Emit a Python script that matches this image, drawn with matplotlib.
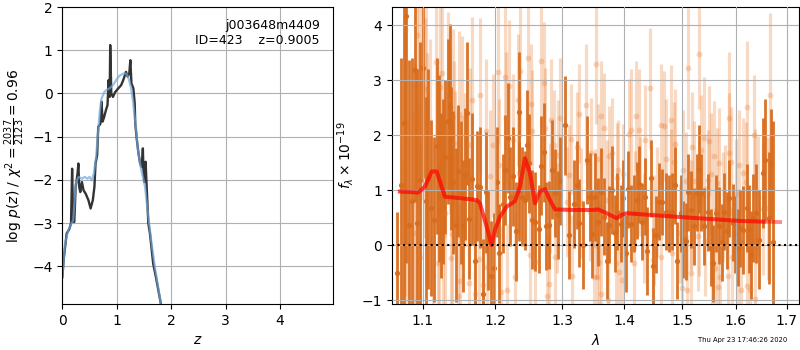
import matplotlib
matplotlib.use("Agg")
import matplotlib.pyplot as plt
from matplotlib.ticker import FixedLocator, FormatStrFormatter, NullLocator, NullFormatter

plt.rcParams['font.size'] = 10

# ---------------- left panel: log p(z) ----------------
z_dark = [0.0, 0.03, 0.08, 0.13, 0.16, 0.18, 0.20, 0.22, 0.245, 0.28, 0.295, 0.31, 0.33,
          0.36, 0.39, 0.43, 0.48, 0.52, 0.56, 0.59, 0.61, 0.64, 0.66, 0.70, 0.72, 0.74,
          0.77, 0.80, 0.83, 0.85, 0.87, 0.88, 0.90, 0.93, 0.97, 1.03, 1.08, 1.12, 1.17,
          1.20, 1.23, 1.25, 1.27, 1.305, 1.33, 1.34, 1.37, 1.40, 1.43, 1.46, 1.48, 1.49,
          1.51, 1.53, 1.55, 1.58, 1.61, 1.67, 1.72, 1.81, 1.90]
logp_dark = [-4.25, -3.78, -3.24, -3.13, -3.00, -1.74, -2.97, -2.97, -2.16, -1.85, -1.62,
             -2.16, -2.28, -2.05, -2.24, -2.32, -2.47, -2.66, -2.47, -2.16, -1.62, -1.43,
             -0.77, -0.70, -0.19, -0.65, -0.54, -0.39, -0.27, 0.31, -0.08, 1.12, 0.00,
             -0.08, 0.03, 0.12, 0.19, 0.31, 0.50, 0.39, 0.46, 0.77, 0.23, 0.12, -0.23,
             -0.69, -1.08, -1.39, -1.62, -1.70, -1.27, -1.77, -2.05, -1.58, -2.16, -3.00,
             -3.24, -3.94, -4.25, -4.86, -5.50]

z_blue = [0.0, 0.05, 0.11, 0.20, 0.25, 0.30, 0.36, 0.41, 0.46, 0.50, 0.54, 0.58, 0.62,
          0.66, 0.69, 0.72, 0.77, 0.81, 0.87, 0.93, 0.99, 1.05, 1.12, 1.17, 1.21, 1.26,
          1.30, 1.35, 1.39, 1.45, 1.52, 1.58, 1.64, 1.70, 1.81, 1.90]
logp_blue = [-4.25, -3.47, -3.16, -2.93, -2.05, -1.93, -1.97, -1.93, -1.97, -1.93, -2.01,
             -1.85, -1.47, -0.85, -0.39, -0.12, 0.03, 0.08, 0.12, 0.19, 0.31, 0.41, 0.46,
             0.46, 0.39, 0.15, -0.19, -0.77, -1.31, -1.77, -2.16, -2.85, -3.47, -4.01,
             -4.86, -5.50]

# ---------------- right panel: spectrum ----------------
lam_dark = [1.0673, 1.0718, 1.0757, 1.0782, 1.0825, 1.0860, 1.0903, 1.0929, 1.0964, 1.1008,
            1.1040, 1.1074, 1.1114, 1.1154, 1.1186, 1.1221, 1.1248, 1.1274, 1.1301, 1.1334,
            1.1365, 1.1379, 1.1410, 1.1447, 1.1479, 1.1515, 1.1550, 1.1575, 1.1603, 1.1630,
            1.1664, 1.1710, 1.1742, 1.1780, 1.1818, 1.1865, 1.1897, 1.1936, 1.1985, 1.2022,
            1.2055, 1.2105, 1.2142, 1.2182, 1.2215, 1.2255, 1.2299, 1.2338, 1.2347, 1.2387,
            1.2427, 1.2462, 1.2496, 1.2536, 1.2586, 1.2637, 1.2672, 1.2713, 1.2753, 1.2799,
            1.2840, 1.2891, 1.2933, 1.2968, 1.3046, 1.3108, 1.3178, 1.3230, 1.3266, 1.3320,
            1.3389, 1.3432, 1.3469, 1.3513, 1.3566, 1.3620, 1.3664, 1.3708, 1.3751, 1.3800,
            1.3840, 1.3883, 1.3940, 1.3980, 1.4023, 1.4062, 1.4118, 1.4163, 1.4209, 1.4248,
            1.4304, 1.4346, 1.4390, 1.4449, 1.4494, 1.4536, 1.4593, 1.4651, 1.4711, 1.4769,
            1.4827, 1.4875, 1.4916, 1.4977, 1.5024, 1.5067, 1.5114, 1.5168, 1.5217, 1.5266,
            1.5300, 1.5345, 1.5406, 1.5468, 1.5530, 1.5572, 1.5623, 1.5673, 1.5735, 1.5779,
            1.5830, 1.5873, 1.5938, 1.5988, 1.6034, 1.6084, 1.6141, 1.6207, 1.6258, 1.6291,
            1.6336, 1.6389, 1.6453, 1.6520, 1.6572, 1.6639, 1.6685, 1.6731]
flux_dark = [-0.50, 1.10, 2.22, 4.17, 0.37, 0.80, 3.19, 0.40, 1.19, 3.22,
             0.80, 1.20, 0.67, 0.46, 1.80, 1.40, 0.90, 1.16, 1.61, 2.25,
             2.52, 1.58, 1.14, 0.37, 1.34, 0.95, 0.35, 1.30, 2.40, 0.48,
             1.20, -0.28, 1.07, 1.05, -0.88, 0.96, 0.08, -0.56, -0.42, 1.14,
             -0.15, 0.75, 1.37, 1.95, 0.88, 1.25, 0.25, 0.98, 2.42, 0.88,
             0.82, 1.82, 1.49, 0.46, 0.43, 0.29, 1.44, 1.69, 0.34, 0.37,
             1.37, 0.95, 0.55, 1.16, 2.18, 0.18, 0.75, 1.10, 0.40, 0.00,
             1.54, 0.88, 0.21, 0.88, 0.43, 0.96, 0.52, -0.28, 0.37, 1.00,
             0.22, 0.61, 0.39, 0.85, -0.15, 1.02, 0.39, 0.58, 0.82, 1.11,
             0.43, 0.88, -0.10, 1.22, -0.38, 0.19, 0.79, 0.79, 0.61, 0.57,
             0.61, 1.09, -0.28, 0.58, 0.11, 0.07, 0.96, 0.64, 0.34, 0.95,
             1.38, 0.95, 0.34, 0.60, -0.05, -0.33, 0.58, 0.35, 0.05, 0.61,
             0.26, 0.85, 0.41, 0.20, -0.05, 0.31, 0.28, 0.67, 0.29, -0.18,
             0.49, 0.58, 0.10, 1.31, 1.55, 0.49, 1.48, 0.06]
err_dark = [1.10, 2.30, 3.50, 4.50, 3.00, 2.60, 2.40, 2.80, 2.50, 2.00,
            1.90, 2.00, 1.60, 1.50, 1.60, 1.70, 1.50, 1.50, 1.40, 1.50,
            1.50, 1.30, 1.30, 1.40, 1.20, 1.30, 1.20, 1.20, 1.30, 1.10,
            1.20, 1.10, 1.00, 1.10, 1.00, 1.10, 0.90, 1.00, 1.00, 1.00,
            0.90, 0.90, 1.00, 1.00, 0.90, 0.90, 0.90, 0.90, 1.10, 0.90,
            0.90, 1.00, 0.90, 0.90, 0.90, 0.80, 0.90, 0.90, 0.80, 0.80,
            0.90, 0.80, 0.80, 0.80, 0.90, 0.80, 0.80, 0.80, 0.80, 0.80,
            0.80, 0.80, 0.80, 0.80, 0.80, 0.80, 0.70, 0.70, 0.70, 0.80,
            0.70, 0.70, 0.70, 0.70, 0.70, 0.70, 0.70, 0.70, 0.70, 0.70,
            0.70, 0.70, 0.80, 0.70, 0.70, 0.70, 0.70, 0.60, 0.70, 0.70,
            0.70, 0.70, 0.70, 0.70, 0.70, 0.70, 0.70, 0.70, 0.70, 0.70,
            0.80, 0.70, 0.70, 0.70, 0.70, 0.70, 0.70, 0.70, 0.70, 0.70,
            0.70, 0.70, 0.70, 0.70, 0.70, 0.70, 0.80, 0.80, 0.80, 0.80,
            0.80, 0.90, 0.90, 1.00, 1.10, 1.20, 1.00, 2.20]

lam_light = [1.0748, 1.0770, 1.0791, 1.0886, 1.0899, 1.0921, 1.0935, 1.0950, 1.0964, 1.0987,
             1.1030, 1.1039, 1.1053, 1.1061, 1.1096, 1.1132, 1.1176, 1.1198, 1.1220, 1.1229,
             1.1260, 1.1274, 1.1297, 1.1341, 1.1365, 1.1374, 1.1392, 1.1410, 1.1419, 1.1433,
             1.1469, 1.1491, 1.1502, 1.1525, 1.1571, 1.1631, 1.1641, 1.1664, 1.1711, 1.1771,
             1.1780, 1.1827, 1.1865, 1.1875, 1.1922, 1.1969, 1.2041, 1.2055, 1.2084, 1.2133,
             1.2151, 1.2166, 1.2190, 1.2249, 1.2287, 1.2328, 1.2347, 1.2362, 1.2476, 1.2511,
             1.2526, 1.2536, 1.2586, 1.2677, 1.2722, 1.2738, 1.2764, 1.2789, 1.2814, 1.2829,
             1.2866, 1.2891, 1.2917, 1.2933, 1.2968, 1.3074, 1.3101, 1.3142, 1.3155, 1.3230,
             1.3257, 1.3298, 1.3378, 1.3442, 1.3453, 1.3497, 1.3513, 1.3529, 1.3545, 1.3555,
             1.3566, 1.3582, 1.3610, 1.3620, 1.3664, 1.3718, 1.3730, 1.3745, 1.3800, 1.3855,
             1.3872, 1.3894, 1.3905, 1.3965, 1.3982, 1.4077, 1.4105, 1.4160, 1.4189, 1.4199,
             1.4245, 1.4274, 1.4330, 1.4347, 1.4434, 1.4492, 1.4504, 1.4563, 1.4622, 1.4635,
             1.4680, 1.4710, 1.4799, 1.4812, 1.4827, 1.4857, 1.4875, 1.4965, 1.5006, 1.5024,
             1.5067, 1.5096, 1.5114, 1.5158, 1.5170, 1.5187, 1.5217, 1.5285, 1.5303, 1.5314,
             1.5345, 1.5406, 1.5420, 1.5468, 1.5487, 1.5530, 1.5545, 1.5591, 1.5605, 1.5636,
             1.5655, 1.5685, 1.5700, 1.5748, 1.5797, 1.5842, 1.5861, 1.5873, 1.5905, 1.5920,
             1.6000, 1.6034, 1.6065, 1.6097, 1.6130, 1.6194, 1.6207, 1.6220, 1.6277, 1.6355,
             1.6368, 1.6375, 1.6422, 1.6532, 1.6618, 1.6664]
flux_light = [-0.86, 1.68, -0.18, 0.22, 1.01, 3.82, 0.54, 2.73, -0.21, 2.92,
              2.13, 2.84, 1.49, 1.07, 1.85, -0.54, 3.33, -0.33, 0.41, 2.87,
              3.13, 0.16, 0.58, 2.64, 2.07, -0.24, 0.21, 2.33, 1.85, 1.41,
              -0.92, 2.39, -0.66, 2.31, 1.37, -0.69, 1.82, 2.64, -0.88, -0.25,
              2.73, -0.72, 2.08, -0.39, 1.26, 1.82, 3.14, 1.46, -0.86, 3.05,
              2.31, -0.81, 2.90, 1.92, -0.57, 2.64, 1.31, 3.17, 3.40, -0.18,
              2.56, 2.08, -0.30, 3.35, 2.95, 2.13, -0.92, -0.71, 0.85, 2.28,
              1.82, -0.21, 0.49, 1.64, 2.31, 0.79, 1.28, 1.93, -0.56, 1.79,
              2.39, 0.76, 2.55, 0.61, 1.68, -0.57, 0.85, 3.30, -0.58, 0.28,
              1.56, -0.30, 2.34, -0.88, 2.13, 0.82, -0.99, 1.63, 1.67, -0.33,
              1.22, 1.37, -0.48, -0.63, 1.30, 2.02, 2.10, -0.33, 0.82, 2.35,
              2.10, 1.07, 0.31, 1.92, 2.85, -0.27, 0.28, 0.79, 2.19, -0.21,
              2.17, 1.56, 2.28, 1.22, -0.15, 1.51, 1.84, 0.22, -0.78, 1.36,
              1.16, -0.81, 3.22, 0.55, -0.51, 1.78, 1.16, 0.16, 3.48, 0.34,
              1.73, 1.95, 0.08, 1.19, 1.90, 1.30, -0.33, 1.62, -0.42, 1.13,
              -0.76, 1.49, -0.58, 0.70, 0.93, -0.56, 1.67, 2.31, 1.52, -0.21,
              0.93, -0.08, 1.45, -0.81, 1.32, 1.14, 2.51, -0.74, -0.81, 2.00,
              -0.98, 1.01, 0.88, 0.65, 0.67, 2.73]
err_light = [2.4, 2.6, 2.5, 2.2, 2.3, 2.5, 2.0, 2.2, 2.0, 2.1,
             2.0, 1.9, 2.0, 1.8, 1.9, 1.8, 1.9, 1.7, 1.6, 1.8,
             1.7, 1.6, 1.7, 1.6, 1.5, 1.5, 1.5, 1.6, 1.5, 1.4,
             1.5, 1.5, 1.4, 1.5, 1.4, 1.4, 1.4, 1.5, 1.4, 1.3,
             1.4, 1.3, 1.3, 1.3, 1.2, 1.3, 1.3, 1.2, 1.2, 1.3,
             1.2, 1.2, 1.2, 1.2, 1.2, 1.2, 1.1, 1.2, 1.2, 1.1,
             1.1, 1.1, 1.1, 1.2, 1.1, 1.1, 1.1, 1.1, 1.0, 1.1,
             1.0, 1.0, 1.0, 1.0, 1.1, 1.0, 0.9, 1.0, 1.1, 1.0,
             0.9, 1.0, 1.1, 0.9, 1.0, 1.1, 0.9, 1.1, 1.0, 0.9,
             1.0, 1.1, 1.0, 0.9, 1.0, 1.1, 1.0, 0.9, 1.0, 1.1,
             1.0, 0.9, 1.0, 1.1, 0.9, 1.0, 1.1, 1.0, 0.9, 1.0,
             1.1, 0.9, 1.0, 1.0, 1.1, 0.9, 1.0, 1.0, 1.1, 0.9,
             1.0, 1.1, 1.0, 0.9, 1.0, 1.1, 1.0, 0.9, 1.0, 1.1,
             0.9, 1.0, 1.1, 1.0, 0.9, 1.0, 1.1, 1.0, 1.0, 0.9,
             1.0, 1.1, 1.0, 0.9, 1.0, 1.1, 0.9, 1.0, 1.1, 1.0,
             0.9, 1.0, 1.1, 1.0, 0.9, 1.0, 1.1, 1.2, 1.0, 0.9,
             1.0, 1.1, 1.0, 0.9, 1.0, 1.1, 1.2, 1.0, 1.0, 1.1,
             1.1, 1.1, 1.1, 1.2, 1.3, 1.5]

lam_model = [1.0705, 1.0942, 1.1030, 1.1119, 1.1186, 1.1297, 1.1502, 1.1734, 1.1780, 1.1875,
             1.1946, 1.1994, 1.2066, 1.2163, 1.2284, 1.2358, 1.2432, 1.2507, 1.2582, 1.2657,
             1.2733, 1.2809, 1.2886, 1.3170, 1.3489, 1.3570, 1.3707, 1.3872, 1.3955, 1.4039,
             1.4846, 1.5450, 1.6081, 1.6868]
flux_model = [0.975, 0.956, 1.065, 1.34, 1.34, 0.88, 0.855, 0.82, 0.76, 0.34,
              0.00, 0.28, 0.52, 0.70, 0.80, 1.065, 1.58, 1.31, 0.76, 0.975,
              1.02, 0.82, 0.65, 0.64, 0.64, 0.65, 0.58, 0.49, 0.55, 0.58,
              0.52, 0.48, 0.44, 0.42]
lam_model_end = 1.655   # second (overlapping) model trace stops here

z_ticks = [0, 1, 2, 3, 4]
logp_ticks = [-4, -3, -2, -1, 0, 1, 2]
lam_ticks = [1.1, 1.2, 1.3, 1.4, 1.5, 1.6, 1.7]
flux_ticks = [-1, 0, 1, 2, 3, 4]

root = 'j003648m4409'
obj_id = 423
zbest = 0.9005
chi2_num, chi2_den = 2037, 2123
stamp = 'Thu Apr 23 17:46:26 2020'

fig = plt.figure(figsize=(8, 3.5), dpi=100)

# ---- left axes ----
ax1 = fig.add_axes([0.0779, 0.1314, 0.3388, 0.8486])
ax1.plot(z_dark, logp_dark, color='0.2', lw=1.7)
ax1.plot(z_blue, logp_blue, color='#6fa8dc', lw=1.6, alpha=0.7)
ax1.set_xlim(0, 4.98)
ax1.set_ylim(-4.87, 2)
ax1.set_xticks(z_ticks)
ax1.set_yticks(logp_ticks)
ax1.grid(True)
ax1.set_axisbelow(True)
ax1.set_xlabel(r'$z$')
ax1.set_ylabel(r'$\log\,p(z)$' + ' / ' +
               r'$\chi^2=\frac{%d}{%d}=%.2f$' % (chi2_num, chi2_den, chi2_num / chi2_den))
ax1.text(0.95, 0.96, '%s\nID=%d    z=%.4f' % (root, obj_id, zbest),
         transform=ax1.transAxes, ha='right', va='top', multialignment='right',
         fontsize=9)

# ---- right axes ----
ax2 = fig.add_axes([0.4896, 0.1314, 0.5095, 0.8486])
ax2.errorbar(lam_light, flux_light, yerr=err_light, fmt='o', ms=4.2, color='#e8782a',
             ecolor='#e8782a', elinewidth=2.3, capsize=0, alpha=0.28, mew=0)
ax2.errorbar(lam_dark, flux_dark, yerr=err_dark, fmt='o', ms=3.8, color='#d86c1c',
             ecolor='#d86c1c', elinewidth=2.0, capsize=0, alpha=0.95, mew=0)
cut = [i for i, l in enumerate(lam_model) if l < lam_model_end]
ax2.plot(lam_model, flux_model, color='red', lw=2.8, alpha=0.45, zorder=4)
ax2.plot([lam_model[i] for i in cut] + [lam_model_end],
         [flux_model[i] for i in cut] + [0.425],
         color='red', lw=2.8, alpha=0.45, zorder=4)
ax2.axhline(0, color='k', ls=':', lw=1.5, zorder=5)
ax2.set_xscale('log')
ax2.set_xlim(1.060, 1.726)
ax2.set_ylim(-1.07, 4.33)
ax2.xaxis.set_major_locator(FixedLocator(lam_ticks))
ax2.xaxis.set_major_formatter(FormatStrFormatter('%.1f'))
ax2.xaxis.set_minor_locator(NullLocator())
ax2.xaxis.set_minor_formatter(NullFormatter())
ax2.set_yticks(flux_ticks)
ax2.grid(True)
ax2.set_axisbelow(False)
ax2.set_xlabel(r'$\lambda$')
ax2.set_ylabel(r'$f_\lambda\times10^{-19}$')

fig.text(0.984, 0.028, stamp, ha='right', va='center', fontsize=4.9)

fig.savefig('out.png', dpi=100)
